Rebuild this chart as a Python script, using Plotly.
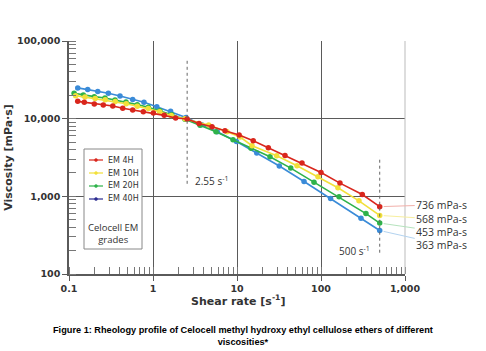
import plotly.graph_objects as go
import numpy as np

# ---------------- data ----------------
em4h_x = [0.127, 0.152, 0.200, 0.256, 0.332, 0.436, 0.573, 0.767, 1.01, 1.36, 1.86, 2.55,
          3.53, 5.04, 7.19, 10.6, 15.6, 23.6, 37.3, 59.4, 100, 168, 310, 500]
em4h_y = [16700, 16240, 15500, 15020, 14580, 13580, 12950, 12310, 11850, 11030, 10210, 9900,
          8650, 7880, 7000, 6160, 5200, 4230, 3360, 2680, 2030, 1480, 1055, 736]

em10h_x = [0.12, 0.155, 0.205, 0.27, 0.355, 0.48, 0.65, 0.88, 1.2, 1.65, 2.4,
           4.6, 7.6, 10.9, 15.1, 29.7, 51.8, 92, 159, 283, 500]
em10h_y = [19800, 19000, 18200, 17500, 16600, 15600, 14500, 13500, 12300, 11000, 9950,
           8300, 6800, 5800, 4490, 3330, 2480, 1790, 1290, 875, 568]

em20h_x = [0.115, 0.148, 0.200, 0.268, 0.353, 0.477, 0.650, 0.879, 1.21, 1.67, 2.40,
           3.63, 5.62, 8.96, 14.7, 24.7, 43.6, 82.6, 164, 343, 500]
em20h_y = [21200, 20200, 19200, 18500, 17430, 16420, 15160, 14000, 12680, 11260, 9800,
           8240, 6800, 5360, 4160, 3230, 2310, 1520, 986, 600, 453]

em40h_x = [0.127, 0.167, 0.220, 0.294, 0.405, 0.573, 0.781, 1.11, 1.62, 2.47,
           3.80, 5.82, 9.86, 17.2, 31.9, 62.8, 130, 299, 500]
em40h_y = [24900, 23700, 22300, 21200, 19600, 17700, 16230, 14280, 12420, 10390,
           8370, 6790, 5090, 3610, 2460, 1550, 937, 524, 363]

series_names = ["EM 4H", "EM 10H", "EM 20H", "EM 40H"]
end_labels = ["736 mPa-s", "568 mPa-s", "453 mPa-s", "363 mPa-s"]

x_tickvals = [0.1, 1, 10, 100, 1000]
x_ticktext = ["0.1", "1", "10", "100", "1,000"]
y_tickvals = [100, 1000, 10000, 100000]
y_ticktext = ["100", "1,000", "10,000", "100,000"]

marker_rate_1 = 2.55
marker_rate_1_span = [1450, 59400]
marker_rate_2 = 500
marker_rate_2_span = [188, 3240]

# ---------------- styling ----------------
line_cols = ["#d9261c", "#f2e03a", "#2eb24a", "#3a8bd8"]
legend_cols = ["#d9261c", "#f2e03a", "#2eb24a", "#2b2b8f"]
leader_cols = ["#f2b0aa", "#f7ef9e", "#b5e3bd", "#b3d3f0"]
txt = "#333333"
grid = "#5a5a5a"

L, R, T, B = 69, 81, 41, 77
W, H = 486, 351
pw, ph = W - L - R, H - T - B


def px(xp):
    return (xp - L) / pw


def py(yp):
    return (H - B - yp) / ph


fig = go.Figure()

xs = [em4h_x, em10h_x, em20h_x, em40h_x]
ys = [em4h_y, em10h_y, em20h_y, em40h_y]

for i in [3, 2, 1, 0]:
    fig.add_trace(go.Scatter(x=xs[i], y=ys[i], mode="lines+markers", name=series_names[i],
                             line=dict(color=line_cols[i], width=1.6),
                             marker=dict(color=line_cols[i], size=5.5),
                             showlegend=False, hoverinfo="skip"))

# dotted reference lines
fig.add_trace(go.Scatter(x=[marker_rate_1, marker_rate_1], y=marker_rate_1_span, mode="lines",
                         line=dict(color="#666666", width=1, dash="dot"), showlegend=False,
                         hoverinfo="skip"))
fig.add_trace(go.Scatter(x=[marker_rate_2, marker_rate_2], y=marker_rate_2_span, mode="lines",
                         line=dict(color="#666666", width=1, dash="dot"), showlegend=False,
                         hoverinfo="skip"))

ann = []
ann.append(dict(x=np.log10(3.0), y=np.log10(1585), xref="x", yref="y", text="2.55 s<sup>-1</sup>",
                showarrow=False, xanchor="left", yanchor="middle",
                font=dict(family="Open Sans", size=10, color=txt)))
ann.append(dict(x=np.log10(410), y=np.log10(198), xref="x", yref="y", text="500 s<sup>-1</sup>",
                showarrow=False, xanchor="right", yanchor="middle",
                font=dict(family="Open Sans", size=10, color=txt)))

ay_offsets = [-2, 4, 9, 14]
for i in range(4):
    ann.append(dict(x=np.log10(xs[i][-1]), y=np.log10(ys[i][-1]), xref="x", yref="y",
                    text=end_labels[i], showarrow=True, arrowhead=0, arrowwidth=1,
                    arrowcolor=leader_cols[i], ax=62, ay=ay_offsets[i], standoff=4,
                    font=dict(family="Open Sans", size=10.5, color=txt)))

# manual legend
shapes = [dict(type="rect", xref="paper", yref="paper",
               x0=px(84), x1=px(142), y0=py(249), y1=py(149),
               line=dict(color="#888888", width=1), fillcolor="white", layer="above")]
leg_y = [160, 173, 186, 199]
for i in range(4):
    shapes.append(dict(type="line", xref="paper", yref="paper",
                       x0=px(89), x1=px(103), y0=py(leg_y[i]), y1=py(leg_y[i]),
                       line=dict(color=legend_cols[i], width=1.2), layer="above"))
    shapes.append(dict(type="circle", xref="paper", yref="paper",
                       x0=px(94.5), x1=px(97.5), y0=py(leg_y[i] + 1.5), y1=py(leg_y[i] - 1.5),
                       line=dict(color=legend_cols[i], width=0.5), fillcolor=legend_cols[i],
                       layer="above"))
    ann.append(dict(x=px(106), y=py(leg_y[i]), xref="paper", yref="paper", text=series_names[i],
                    showarrow=False, xanchor="left", yanchor="middle",
                    font=dict(family="DejaVu Sans", size=8, color=txt)))

ann.append(dict(x=px(113), y=py(233), xref="paper", yref="paper", text="Celocell EM<br>grades",
                showarrow=False, xanchor="center", yanchor="middle",
                font=dict(family="Open Sans", size=9.5, color=txt)))

ann.append(dict(x=px(238), y=py(300), xref="paper", yref="paper", showarrow=False,
                text="Shear rate [s<sup>-1</sup>]", xanchor="center", yanchor="middle",
                font=dict(family="DejaVu Sans", size=11, color=txt, weight="bold")))

ann.append(dict(x=px(243), y=py(336), xref="paper", yref="paper", showarrow=False,
                xanchor="center", yanchor="middle",
                text="Figure 1: Rheology profile of Celocell methyl hydroxy ethyl cellulose ethers of different<br>viscosities*",
                font=dict(family="Liberation Sans", size=9.2, color="#000000", weight="bold")))

shapes.append(dict(type="line", xref="paper", yref="paper", x0=1, x1=1, y0=0, y1=1,
                   line=dict(color="#bbbbbb", width=1)))

axis_common = dict(type="log", showline=True, linecolor=grid, linewidth=1.5,
                   showgrid=True, gridcolor=grid, gridwidth=1.3,
                   ticks="outside", ticklen=5, tickcolor=grid, tickwidth=1.2,
                   zeroline=False, automargin=False,
                   tickfont=dict(family="DejaVu Sans", size=9.5, color=txt, weight="bold"),
                   minor=dict(ticks="inside", ticklen=7, tickcolor="#777777", tickwidth=1,
                              showgrid=False, dtick="D1"))

fig.update_layout(
    width=W, height=H,
    margin=dict(l=L, r=R, t=T, b=B, autoexpand=False),
    plot_bgcolor="white", paper_bgcolor="white",
    xaxis=dict(axis_common, range=[-1, 3], tickvals=x_tickvals, ticktext=x_ticktext),
    yaxis=dict(axis_common, range=[2, 5], tickvals=y_tickvals, ticktext=y_ticktext,
               title=dict(text="Viscosity [mPa·s]", standoff=2,
                          font=dict(family="DejaVu Sans", size=11, color=txt, weight="bold"))),
    showlegend=False,
    annotations=ann,
    shapes=shapes,
)

fig.write_html("out.html")
